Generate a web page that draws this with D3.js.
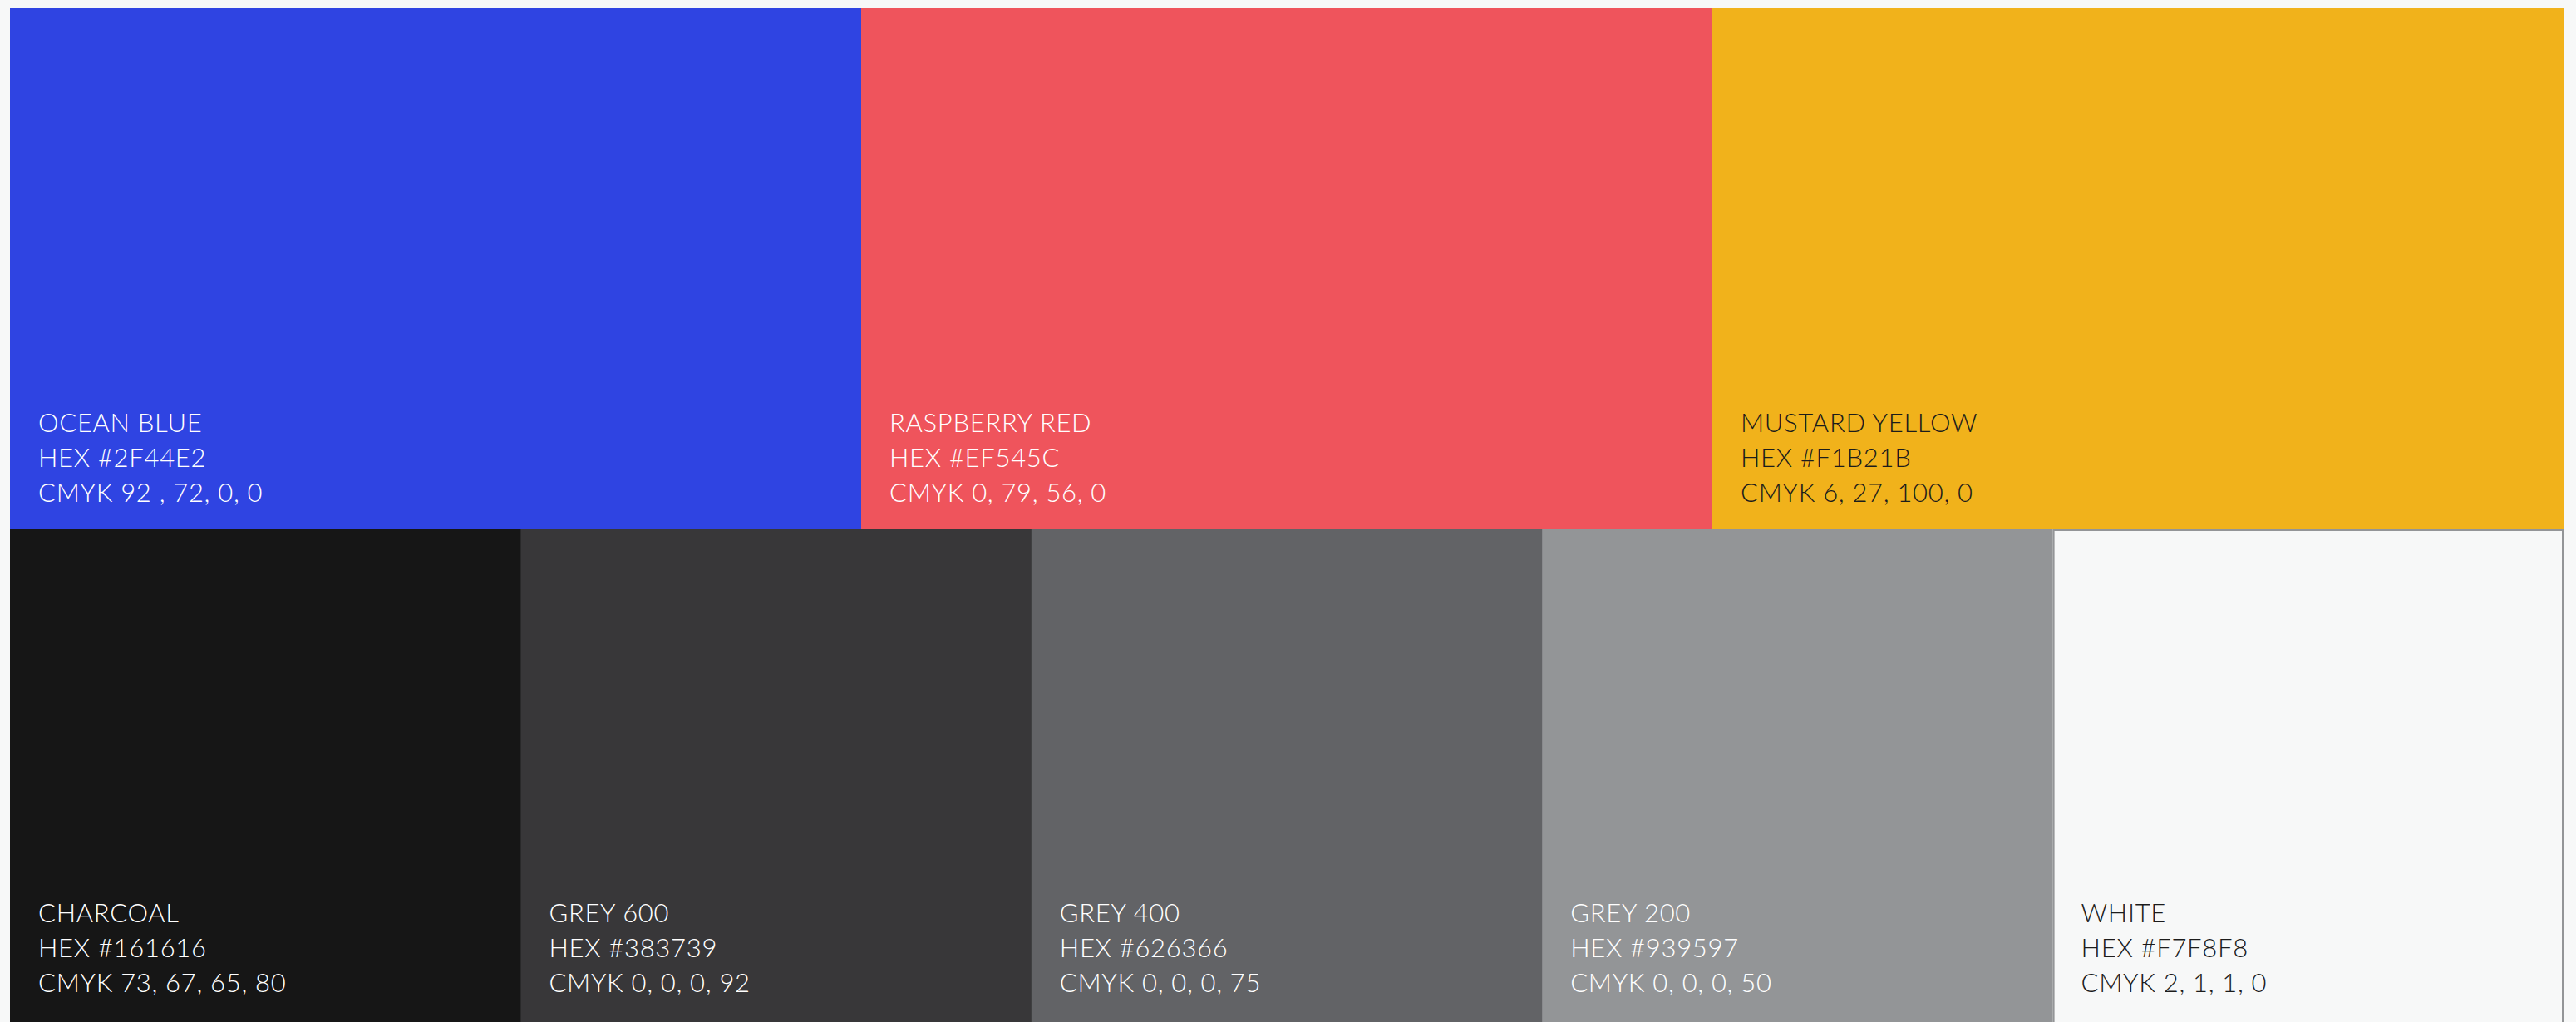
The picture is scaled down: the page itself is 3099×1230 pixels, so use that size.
<!DOCTYPE html>
<html>
<head>
<meta charset="utf-8">
<script src="https://cdn.jsdelivr.net/npm/d3@7"></script>
<style>
  html, body { margin: 0; padding: 0; background: #f7f8f8; overflow: hidden; }
  #d3 { width: 3099px; height: 1230px; }
</style>
</head>
<body>
<div id="d3"></div>
<script>
// swatch data, one entry per cell
const names = ['OCEAN BLUE', 'RASPBERRY RED', 'MUSTARD YELLOW',
  'CHARCOAL', 'GREY 600', 'GREY 400', 'GREY 200', 'WHITE'];
const hexes = ['#2F44E2', '#EF545C', '#F1B21B',
  '#161616', '#383739', '#626366', '#939597', '#F7F8F8'];
const cmyks = ['92 , 72, 0, 0', '0, 79, 56, 0', '6, 27, 100, 0',
  '73, 67, 65, 80', '0, 0, 0, 92', '0, 0, 0, 75', '0, 0, 0, 50', '2, 1, 1, 0'];
const rows = [0, 0, 0, 1, 1, 1, 1, 1];
const darkText = ['MUSTARD YELLOW', 'WHITE'];

const width = 3099;
const height = 1230;
const margin = { top: 10, left: 12, right: 15, bottom: 0 };
const rowSplit = 637;

const swatches = names.map((n, i) => ({
  name: n, hex: hexes[i], cmyk: cmyks[i], row: rows[i],
}));

const svg = d3.select('#d3')
  .append('svg')
  .attr('width', width)
  .attr('height', height);

const y = d3.scaleOrdinal().domain([0, 1]).range([margin.top, rowSplit]);
const rowHeight = [rowSplit - margin.top, height - rowSplit];

[0, 1].forEach((r) => {
  const items = swatches.filter((d) => d.row === r);
  const x = d3.scaleBand()
    .domain(items.map((d) => d.name))
    .range([margin.left, width - margin.right])
    .paddingInner(0)
    .paddingOuter(0);

  const g = svg.selectAll(`g.row${r}`)
    .data(items)
    .enter()
    .append('g')
    .attr('class', `row${r}`)
    .attr('transform', (d) => `translate(${x(d.name)},${y(r)})`);

  // overlap by a pixel so no seams show between cells
  g.append('rect')
    .attr('width', x.bandwidth() + 1)
    .attr('height', rowHeight[r])
    .attr('fill', (d) => d.hex);

  // the white swatch gets a grey frame
  g.filter((d) => d.name === 'WHITE')
    .append('rect')
    .attr('x', 1)
    .attr('y', 1)
    .attr('width', x.bandwidth() - 2)
    .attr('height', rowHeight[r] + 10)
    .attr('fill', '#F7F8F8')
    .attr('stroke', '#939597')
    .attr('stroke-width', 2);

  const text = g.append('text')
    .attr('font-family', 'Lato, "Noto Sans", sans-serif')
    .attr('font-size', 31)
    .attr('font-weight', 300)
    .attr('letter-spacing', 0.7)
    .attr('fill', (d) => (darkText.includes(d.name) ? '#1c1c1c' : '#ffffff'));

  const base = rowHeight[r] - (r === 0 ? 117 : 120);
  const lines = [(d) => d.name, (d) => `HEX ${d.hex}`, (d) => `CMYK ${d.cmyk}`];
  lines.forEach((fn, i) => {
    text.append('tspan')
      .attr('x', 34)
      .attr('y', base + i * 42)
      .text(fn);
  });
});
</script>
</body>
</html>
